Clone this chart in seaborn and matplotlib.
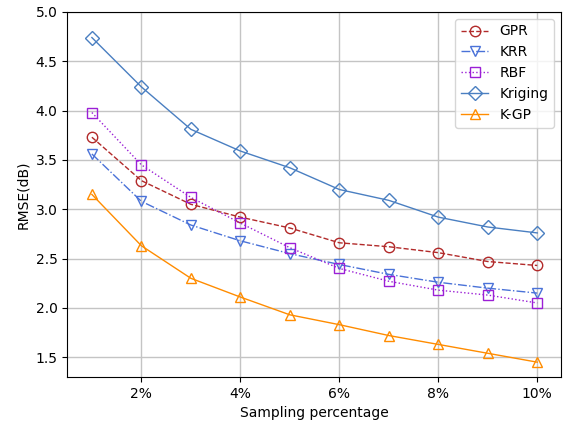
import numpy as np
import pandas as pd
import matplotlib
matplotlib.use("Agg")
import matplotlib.pyplot as plt
import seaborn as sns

pct = [1, 2, 3, 4, 5, 6, 7, 8, 9, 10]
gpr = [3.73, 3.29, 3.05, 2.92, 2.81, 2.66, 2.62, 2.56, 2.47, 2.43]
krr = [3.56, 3.08, 2.84, 2.68, 2.55, 2.44, 2.34, 2.26, 2.20, 2.15]
rbf = [3.98, 3.45, 3.12, 2.86, 2.61, 2.40, 2.27, 2.18, 2.13, 2.05]
kriging = [4.74, 4.24, 3.81, 3.59, 3.42, 3.20, 3.09, 2.92, 2.82, 2.76]
kgp = [3.15, 2.63, 2.30, 2.11, 1.93, 1.83, 1.72, 1.63, 1.54, 1.45]

series = [
    ("GPR", gpr, "#b22a2a", "--", "o"),
    ("KRR", krr, "#4a72d8", "-.", "v"),
    ("RBF", rbf, "#9b1fd6", ":", "s"),
    ("Kriging", kriging, "#4a7fc1", "-", "D"),
    ("K-GP", kgp, "#ff8c00", "-", "^"),
]

fig, ax = plt.subplots(figsize=(5.69, 4.25), dpi=100)
for name, vals, col, ls, mk in series:
    sns.lineplot(x=pct, y=vals, ax=ax, color=col, linestyle=ls, marker=mk,
                 markersize=7.5, markerfacecolor="none", markeredgecolor=col,
                 markeredgewidth=1.0, linewidth=1.0, label=name)

ax.set_xlim(0.5, 10.48)
ax.set_ylim(1.3, 5.0)
ax.set_xticks([2, 4, 6, 8, 10])
ax.set_xticklabels(["2%", "4%", "6%", "8%", "10%"])
ax.set_yticks(np.arange(1.5, 5.01, 0.5))
ax.grid(True, color="#c4c4c4", linewidth=1.0)
ax.set_xlabel("Sampling percentage")
ax.set_ylabel("RMSE(dB)")
ax.legend(loc="upper right")
fig.subplots_adjust(left=0.118, right=0.986, top=0.972, bottom=0.113)
fig.savefig("out.png", dpi=100)
